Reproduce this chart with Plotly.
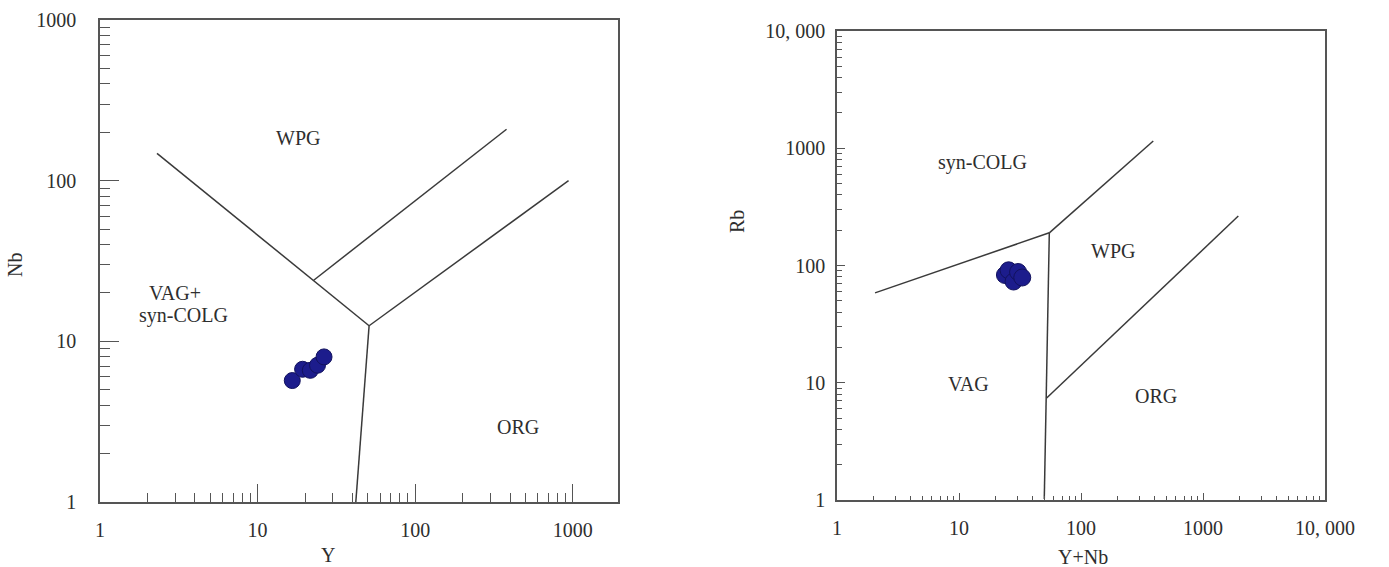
import plotly.graph_objects as go

# ---------------- data ----------------
# Left diagram: Nb vs Y
left_Y = [16.6, 19.3, 21.6, 24.0, 26.4]
left_Nb = [5.7, 6.7, 6.6, 7.1, 8.0]

# Right diagram: Rb vs (Y+Nb)
right_YNb = [23.8, 25.5, 28.0, 30.5, 33.0]
right_Rb = [83, 91, 73, 88, 79]

# boundary lines (data coordinates) - left diagram
left_bounds = [
    ([2.3, 51], [148, 12.5]),      # VAG+syn-COLG / WPG
    ([22.7, 380], [24, 209]),      # upper WPG/ORG (anomalous ridge)
    ([51, 940], [12.5, 100]),      # WPG / ORG
    ([51, 42], [12.5, 1]),         # VAG+syn-COLG / ORG
]
# right diagram
right_bounds = [
    ([2.05, 55], [58.4, 190]),     # syn-COLG / VAG
    ([55, 391], [190, 1154]),      # syn-COLG / WPG
    ([55, 50], [190, 1.02]),       # VAG / WPG-ORG
    ([52.3, 1947], [7.4, 264]),    # WPG / ORG
]

left_major = [1, 10, 100, 1000]
left_major_text = ["1", "10", "100", "1000"]
right_major = [1, 10, 100, 1000, 10000]
right_major_text = ["1", "10", "100", "1000", "10, 000"]

def minors(decades):
    return [m * d for d in decades for m in range(2, 10)]

W, H = 1389, 567
FONT = "Liberation Serif, Times New Roman, serif"
TXT = "#2e2e2e"
LINE = "#3a3a3a"
AX = "#555555"

fig = go.Figure()

for xs, ys in left_bounds:
    fig.add_trace(go.Scatter(x=xs, y=ys, mode="lines", line=dict(color=LINE, width=1.5),
                             xaxis="x", yaxis="y", showlegend=False, hoverinfo="skip"))
for xs, ys in right_bounds:
    fig.add_trace(go.Scatter(x=xs, y=ys, mode="lines", line=dict(color=LINE, width=1.5),
                             xaxis="x2", yaxis="y2", showlegend=False, hoverinfo="skip"))

marker = dict(size=16, color="#1c1c8c", line=dict(color="#12125e", width=1))
fig.add_trace(go.Scatter(x=left_Y, y=left_Nb, mode="markers", marker=marker,
                         xaxis="x", yaxis="y", showlegend=False))
fig.add_trace(go.Scatter(x=right_YNb, y=right_Rb, mode="markers", marker=dict(marker, size=17),
                         xaxis="x2", yaxis="y2", showlegend=False))

def px(x):
    return x / W

def py(y):
    return 1 - y / H

def axis(domain, rng, tv, tt, mv, ticklen, minorlen, anchor, standoff):
    return dict(
        type="log", domain=domain, range=rng, anchor=anchor,
        showgrid=False, zeroline=False, automargin=False,
        showline=True, linecolor=AX, linewidth=1.5, mirror=True,
        ticks="inside", ticklen=ticklen, tickwidth=1.2, tickcolor=AX,
        tickmode="array", tickvals=tv, ticktext=tt,
        tickfont=dict(family=FONT, size=20, color=TXT),
        ticklabelstandoff=standoff,
        minor=dict(tickmode="array", tickvals=mv, ticks="inside", ticklen=minorlen,
                   tickwidth=1.1, tickcolor=AX, showgrid=False),
    )

fig.update_layout(
    width=W, height=H,
    margin=dict(l=0, r=0, t=0, b=0, pad=0, autoexpand=False),
    paper_bgcolor="white", plot_bgcolor="white",
    showlegend=False,
    xaxis=axis([px(100), px(618)], [0, 3.287], left_major, left_major_text,
               minors([1, 10, 100]), 18, 9, "y", 9),
    yaxis=axis([py(502), py(20)], [0, 3], left_major, left_major_text,
               minors([1, 10, 100]), 19, 10, "x", 18),
    xaxis2=axis([px(837), px(1325)], [0, 4], right_major, right_major_text,
                minors([1, 10, 100, 1000]), 7, 4, "y2", 9),
    yaxis2=axis([py(500), py(31)], [0, 4], right_major, right_major_text,
                minors([1, 10, 100, 1000]), 8, 5, "x2", 6),
)

labels = [
    ("WPG", 298, 138), ("VAG+", 175, 293), ("syn-COLG", 183, 315), ("ORG", 518, 427),
    ("syn-COLG", 982, 162), ("WPG", 1113, 251), ("VAG", 968, 384), ("ORG", 1156, 396),
]
for t, x, y in labels:
    fig.add_annotation(text=t, x=px(x), y=py(y), xref="paper", yref="paper",
                       showarrow=False, font=dict(family=FONT, size=20, color=TXT),
                       xanchor="center", yanchor="middle")

titles = [("Y", 328, 555, 0), ("Nb", 15, 265, -90), ("Y+Nb", 1083, 557, 0), ("Rb", 737, 222, -90)]
for t, x, y, a in titles:
    fig.add_annotation(text=t, x=px(x), y=py(y), xref="paper", yref="paper",
                       showarrow=False, textangle=a, font=dict(family=FONT, size=20, color=TXT),
                       xanchor="center", yanchor="middle")

fig.write_html("out.html")
